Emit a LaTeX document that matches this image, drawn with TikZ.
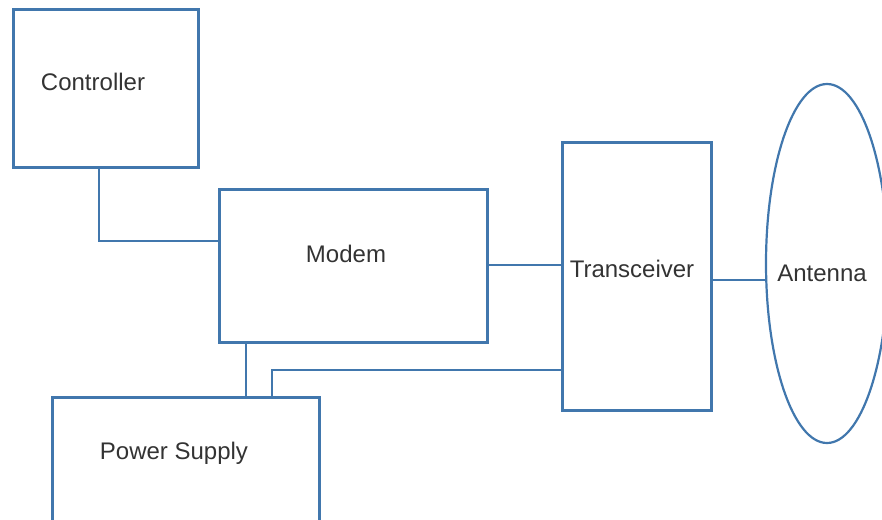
\documentclass[tikz,border=0pt]{standalone}
\usepackage{fontspec}
\setmainfont{Liberation Sans}
\usetikzlibrary{shapes.geometric, positioning, calc}
\definecolor{linkblue}{RGB}{65,119,173}
\definecolor{labelgray}{RGB}{51,51,51}

\begin{document}
\begin{tikzpicture}[
        x=0.5pt, y=-0.5pt,
        font=\fontsize{12}{14}\selectfont,
        box/.style={rectangle, draw=linkblue, line width=1.5pt, inner sep=0pt},
        wire/.style={draw=linkblue, line width=0.85pt},
        every label/.style={text=labelgray}
    ]
        \clip (0,0) rectangle (882,519);
        \node[box, minimum width=92.5pt, minimum height=78.5pt, label={[xshift=-6.25pt, yshift=3.25pt]center:Controller}] (ctrl) at (105.5,88.5) {};
        \node[box, minimum width=134pt, minimum height=76.5pt, label={[xshift=-3.5pt, yshift=5.75pt]center:Modem}] (modem) at (353,265.5) {};
        \node[box, minimum width=74.5pt, minimum height=134pt, label={[xshift=-2.25pt, yshift=3.5pt]center:Transceiver}] (trx) at (636.5,276) {};
        \node[ellipse, draw=linkblue, line width=1.1pt, inner sep=0pt, minimum width=61pt, minimum height=179.5pt, label={[xshift=-2.5pt, yshift=-4.75pt]center:Antenna}] (ant) at (827,263.5) {};
        \node[box, minimum width=133.5pt, minimum height=81.5pt, label={[xshift=-5.75pt, yshift=12.75pt]center:Power Supply}] (power) at (185.5,478.5) {};

        \draw[wire] ([xshift=-3.25pt]ctrl.south) |- ([yshift=12.25pt]modem.west);
        \draw[wire] ([xshift=-1pt, yshift=0.25pt]modem.east) -- ([yshift=0.25pt]modem.east -| trx.west);
        \draw[wire] ([yshift=-2pt]trx.east) -- ([yshift=-2pt]trx.east -| ant.west);
        \draw[wire] ([xshift=-53.5pt]modem.south) -- ([xshift=-53.5pt]modem.south |- power.north);
        \draw[wire] ([xshift=43.25pt]power.north) |- ([yshift=-47pt]trx.west);
\end{tikzpicture}
\end{document}
